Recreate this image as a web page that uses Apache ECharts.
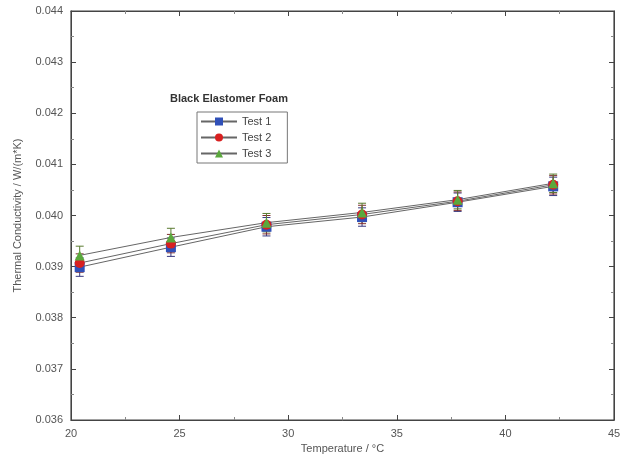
<!DOCTYPE html>
<html><head><meta charset="utf-8">
<script src="https://cdn.jsdelivr.net/npm/echarts@6/dist/echarts.min.js"></script>
<style>html,body{margin:0;padding:0;background:#fff}#c{width:636px;height:460px}</style>
</head><body><div id="c"></div>
<script>
const temps = [20.4, 24.6, 29.0, 33.4, 37.8, 42.2];
const test1 = [0.03899, 0.03938, 0.03978, 0.03997, 0.04026, 0.04057];
const test2 = [0.03907, 0.03945, 0.03982, 0.04002, 0.04028, 0.04060];
const test3 = [0.03922, 0.03957, 0.03986, 0.04006, 0.04031, 0.04063];
const err1 = [0.00018, 0.00018, 0.00018, 0.00018, 0.00018, 0.00018];
const err2 = [0.00018, 0.00018, 0.00018, 0.00018, 0.00018, 0.00018];
const err3 = [0.00018, 0.00018, 0.00018, 0.00018, 0.00018, 0.00018];
const names = ['Test 1', 'Test 2', 'Test 3'];
const colors = ['#3050b8', '#d82020', '#5aa83c'];
const barColors = ['#3a3a80', '#803030', '#5a7a30'];
const symbols = ['rect', 'circle', 'triangle'];
const yTicks = ['0.036','0.037','0.038','0.039','0.040','0.041','0.042','0.043','0.044'];

const values = [test1, test2, test3];
const errs = [err1, err2, err3];
const font = 'Liberation Sans, Arial, sans-serif';
const txt = '#555';

const series = [];
values.forEach((v, i) => {
  series.push({
    name: names[i], type: 'line', xAxisIndex: 0, yAxisIndex: 0, z: 4,
    data: temps.map((t, k) => [t, v[k]]),
    symbol: symbols[i], symbolSize: 10,
    itemStyle: { color: colors[i] },
    lineStyle: { color: '#666', width: 1 },
    animation: false
  });
});
values.forEach((v, i) => {
  series.push({
    name: names[i] + ' error', type: 'custom', xAxisIndex: 0, yAxisIndex: 0, z: 3,
    data: temps.map((t, k) => [t, v[k] - errs[i][k], v[k] + errs[i][k]]),
    renderItem: (params, api) => {
      const lo = api.coord([api.value(0), api.value(1)]);
      const hi = api.coord([api.value(0), api.value(2)]);
      const w = 4;
      const st = { stroke: barColors[i], lineWidth: 1 };
      return { type: 'group', children: [
        { type: 'line', shape: { x1: lo[0], y1: lo[1], x2: hi[0], y2: hi[1] }, style: st },
        { type: 'line', shape: { x1: lo[0]-w, y1: lo[1], x2: lo[0]+w, y2: lo[1] }, style: st },
        { type: 'line', shape: { x1: hi[0]-w, y1: hi[1], x2: hi[0]+w, y2: hi[1] }, style: st }
      ]};
    },
    silent: true
  });
});

const chart = echarts.init(document.getElementById('c'));
chart.setOption({
  animation: false,
  backgroundColor: '#fff',
  grid: { left: 71, top: 11, right: 22, bottom: 40, show: true, borderColor: '#444', borderWidth: 1.2 },
  title: { text: 'Black Elastomer Foam', left: 165, top: 88,
    textStyle: { fontFamily: font, fontSize: 11, fontWeight: 'bold', color: '#333' } },
  legend: {
    data: names, orient: 'vertical', left: 197, top: 112,
    itemWidth: 36, itemHeight: 10, itemGap: 5,
    borderColor: '#777', borderWidth: 1, padding: [4, 16, 4, 3],
    textStyle: { fontFamily: font, fontSize: 11, color: '#444' }
  },
  xAxis: [{
    type: 'value', min: 20, max: 45, interval: 5,
    name: 'Temperature / °C', nameLocation: 'middle', nameGap: 22,
    nameTextStyle: { fontFamily: font, fontSize: 11, color: txt },
    axisLine: { show: true, lineStyle: { color: '#444' } },
    axisTick: { inside: true, length: 5, lineStyle: { color: '#444' } },
    minorTick: { show: true, splitNumber: 2, length: 3, lineStyle: { color: '#888' } },
    axisLabel: { fontFamily: font, fontSize: 11, color: txt, margin: 8 },
    splitLine: { show: false }
  }, {
    type: 'value', position: 'top', min: 20, max: 45, interval: 5,
    axisLine: { show: true, lineStyle: { color: '#444' } },
    axisTick: { inside: true, length: 5, lineStyle: { color: '#444' } },
    minorTick: { show: true, splitNumber: 2, length: 3, lineStyle: { color: '#888' } },
    axisLabel: { show: false }, splitLine: { show: false }
  }],
  yAxis: [{
    type: 'value', min: 0.036, max: 0.044, interval: 0.001,
    name: 'Thermal Conductivity / W/(m*K)', nameLocation: 'middle', nameGap: 48,
    nameTextStyle: { fontFamily: font, fontSize: 11, color: txt },
    axisLine: { show: true, lineStyle: { color: '#444' } },
    axisTick: { inside: true, length: 5, lineStyle: { color: '#444' } },
    minorTick: { show: true, splitNumber: 2, length: 3, lineStyle: { color: '#888' } },
    axisLabel: { fontFamily: font, fontSize: 11, color: txt, margin: 8,
      formatter: (val) => yTicks[Math.round((val - 0.036) / 0.001)] },
    splitLine: { show: false }
  }, {
    type: 'value', position: 'right', min: 0.036, max: 0.044, interval: 0.001,
    axisLine: { show: true, lineStyle: { color: '#444' } },
    axisTick: { inside: true, length: 5, lineStyle: { color: '#444' } },
    minorTick: { show: true, splitNumber: 2, length: 3, lineStyle: { color: '#888' } },
    axisLabel: { show: false }, splitLine: { show: false }
  }],
  series: series
});
</script></body></html>
